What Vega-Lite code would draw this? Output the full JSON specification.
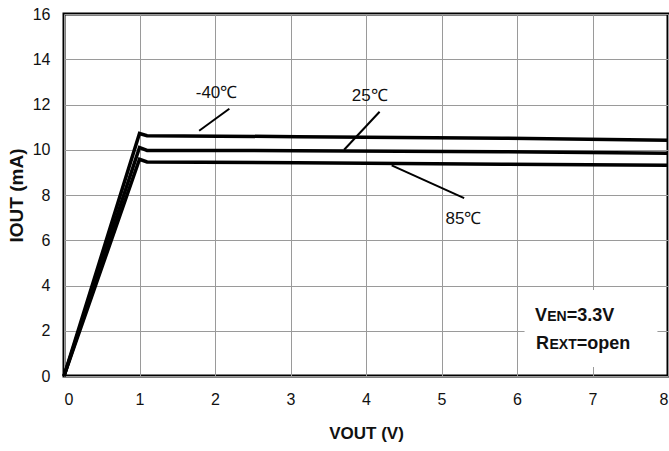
{
  "$schema": "https://vega.github.io/schema/vega-lite/v6.json",
  "width": 604,
  "height": 362,
  "autosize": {"type": "none"},
  "padding": {"left": 64, "top": 14, "right": 1, "bottom": 75},
  "background": "white",
  "config": {
    "view": {"stroke": "#000", "strokeWidth": 3},
    "font": "Liberation Sans",
    "axis": {
      "labelFont": "Liberation Sans",
      "labelFontSize": 16,
      "labelColor": "#111",
      "ticks": false,
      "domain": false,
      "titleFont": "Liberation Sans",
      "titleFontWeight": "bold",
      "titleColor": "#111"
    }
  },
  "datasets": {
    "curves": [
      {"series": "-40", "V": 0, "I": 0},
      {"series": "-40", "V": 1.0, "I": 10.72},
      {"series": "-40", "V": 1.1, "I": 10.62},
      {"series": "-40", "V": 3.1, "I": 10.58},
      {"series": "-40", "V": 5.8, "I": 10.51},
      {"series": "-40", "V": 8, "I": 10.42},
      {"series": "25", "V": 0, "I": 0},
      {"series": "25", "V": 1.0, "I": 10.1},
      {"series": "25", "V": 1.1, "I": 9.97},
      {"series": "25", "V": 3.1, "I": 9.96},
      {"series": "25", "V": 5.8, "I": 9.91},
      {"series": "25", "V": 8, "I": 9.85},
      {"series": "85", "V": 0, "I": 0},
      {"series": "85", "V": 1.0, "I": 9.58},
      {"series": "85", "V": 1.1, "I": 9.46},
      {"series": "85", "V": 3.1, "I": 9.42},
      {"series": "85", "V": 5.8, "I": 9.36},
      {"series": "85", "V": 8, "I": 9.31}
    ],
    "leaders": [
      {"x": 1.79, "y": 10.84, "x2": 2.19, "y2": 11.81},
      {"x": 3.71, "y": 10.0, "x2": 4.18, "y2": 11.68},
      {"x": 4.34, "y": 9.31, "x2": 5.30, "y2": 7.86}
    ],
    "labels": [
      {"x": 2.02, "y": 12.52, "text": "-40℃"},
      {"x": 4.05, "y": 12.36, "text": "25℃"},
      {"x": 5.29, "y": 6.93, "text": "85℃"}
    ],
    "box": [
      {"x": 6.1, "x2": 7.86, "y": 0.4, "y2": 3.8}
    ],
    "bigText": [
      {"x": 6.24, "y": 2.45, "text": "V"},
      {"x": 6.66, "y": 2.45, "text": "=3.3V"},
      {"x": 6.25, "y": 1.18, "text": "R"},
      {"x": 6.79, "y": 1.18, "text": "=open"}
    ],
    "smallText": [
      {"x": 6.40, "y": 2.45, "text": "EN"},
      {"x": 6.43, "y": 1.18, "text": "EXT"}
    ]
  },
  "layer": [
    {
      "data": {"name": "curves"},
      "mark": {"type": "line", "color": "#000", "strokeWidth": 3.5, "strokeJoin": "miter"},
      "encoding": {
        "x": {
          "field": "V", "type": "quantitative",
          "scale": {"domain": [0, 8], "nice": false},
          "axis": {
            "values": [0, 1, 2, 3, 4, 5, 6, 7, 8],
            "format": "d",
            "gridColor": "#9a9a9a",
            "gridOpacity": 1,
            "labelPadding": 15,
            "title": "VOUT (V)",
            "titleFontSize": 17,
            "titlePadding": 18
          }
        },
        "y": {
          "field": "I", "type": "quantitative",
          "scale": {"domain": [0, 16], "nice": false},
          "axis": {
            "values": [0, 1, 2, 3, 4, 5, 6, 7, 8, 9, 10, 11, 12, 13, 14, 15, 16],
            "labelExpr": "datum.value % 2 === 0 ? datum.label : ''",
            "gridColor": {"condition": {"test": "datum.value % 2 === 0", "value": "#9a9a9a"}, "value": "#cfcfcf"},
            "gridOpacity": 1,
            "labelPadding": 14,
            "title": "IOUT (mA)",
            "titleFontSize": 19,
            "titlePadding": 6
          }
        },
        "detail": {"field": "series"}
      }
    },
    {
      "data": {"name": "leaders"},
      "mark": {"type": "rule", "color": "#000", "strokeWidth": 2},
      "encoding": {
        "x": {"field": "x", "type": "quantitative"},
        "y": {"field": "y", "type": "quantitative"},
        "x2": {"field": "x2"},
        "y2": {"field": "y2"}
      }
    },
    {
      "data": {"name": "labels"},
      "mark": {"type": "text", "font": "Liberation Sans", "fontSize": 17, "color": "#111", "align": "center", "baseline": "middle"},
      "encoding": {
        "x": {"field": "x", "type": "quantitative"},
        "y": {"field": "y", "type": "quantitative"},
        "text": {"field": "text"}
      }
    },
    {
      "data": {"name": "box"},
      "mark": {"type": "rect", "color": "white"},
      "encoding": {
        "x": {"field": "x", "type": "quantitative"},
        "x2": {"field": "x2"},
        "y": {"field": "y", "type": "quantitative"},
        "y2": {"field": "y2"}
      }
    },
    {
      "data": {"name": "bigText"},
      "mark": {"type": "text", "font": "Liberation Sans", "fontWeight": "bold", "fontSize": 18, "color": "#111", "align": "left", "baseline": "alphabetic"},
      "encoding": {
        "x": {"field": "x", "type": "quantitative"},
        "y": {"field": "y", "type": "quantitative"},
        "text": {"field": "text"}
      }
    },
    {
      "data": {"name": "smallText"},
      "mark": {"type": "text", "font": "Liberation Sans", "fontWeight": "bold", "fontSize": 14, "color": "#111", "align": "left", "baseline": "alphabetic"},
      "encoding": {
        "x": {"field": "x", "type": "quantitative"},
        "y": {"field": "y", "type": "quantitative"},
        "text": {"field": "text"}
      }
    }
  ]
}
